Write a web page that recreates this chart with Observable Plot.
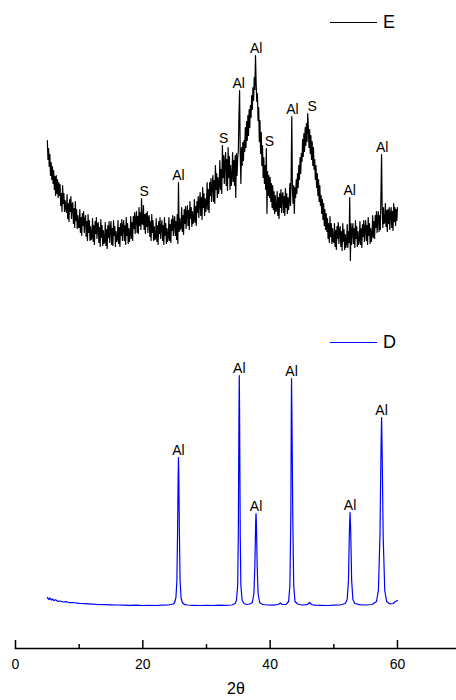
<!DOCTYPE html>
<html>
<head>
<meta charset="utf-8">
<script src="https://cdn.jsdelivr.net/npm/d3@7"></script>
<script src="https://cdn.jsdelivr.net/npm/@observablehq/plot@0.6"></script>
<style>
  body { margin: 0; background: #fff; font-family: "Liberation Sans", Arial, sans-serif; }
  #chart { position: relative; width: 456px; height: 700px; }
  .key-line { position: absolute; left: 330px; width: 47px; height: 1px; }
  .key-text { position: absolute; left: 383px; font-size: 18px; line-height: 18px; color: #000; }
</style>
</head>
<body>
<div id="chart"></div>
<script>
// Sample D: scan points (2θ, intensity in counts)
const dTheta = [
  5.0, 5.2, 5.4, 5.6, 5.8, 6.0, 6.3, 6.6, 7.0, 7.5, 8.0, 8.5, 9.0, 10.0, 11.0, 12.0, 13.0, 14.0, 15.0, 16.0,
  17.0, 18.0, 19.0, 20.0, 21.0, 22.0, 23.0, 24.0, 24.8, 25.0, 25.2, 25.35, 25.45, 25.55, 25.6, 25.65, 25.75, 25.85,
  26.0, 26.2, 26.5, 27.0, 28.0, 29.0, 30.0, 31.0, 32.0, 33.0, 34.0, 34.5, 34.7, 34.9, 35.0, 35.1, 35.15, 35.2,
  35.3, 35.4, 35.6, 35.9, 36.3, 36.8, 37.2, 37.45, 37.6, 37.72, 37.78, 37.84, 37.96, 38.1, 38.35, 38.8, 39.5,
  40.5, 41.3, 41.6, 41.9, 42.5, 42.9, 43.1, 43.25, 43.32, 43.36, 43.42, 43.55, 43.7, 43.9, 44.3, 45.0, 45.8,
  46.2, 46.5, 47.0, 48.0, 49.0, 50.0, 51.0, 51.8, 52.1, 52.3, 52.45, 52.55, 52.65, 52.8, 53.0, 53.3, 54.0,
  55.0, 56.0, 56.7, 57.0, 57.25, 57.4, 57.5, 57.6, 57.75, 58.0, 58.3, 58.8, 59.3, 59.7, 60.0
];
const dIntensity = [
  80, 60, 75, 55, 65, 50, 58, 42, 45, 35, 38, 28, 30, 22, 18, 14, 10, 8, 6, 5,
  3, 2, 3, 0, 2, 0, 3, 5, 15, 30, 80, 250, 700, 1300, 1480, 1300, 700, 250,
  80, 30, 12, 5, 2, 0, 2, 0, 3, 2, 5, 20, 50, 200, 700, 1900, 2300, 1900,
  700, 200, 50, 20, 10, 15, 30, 120, 400, 820, 920, 820, 400, 120, 30, 10, 5,
  3, 10, 25, 10, 12, 40, 200, 900, 1900, 2270, 1900, 900, 200, 40, 15, 5, 8,
  30, 10, 3, 2, 0, 3, 5, 20, 60, 250, 750, 930, 750, 250, 60, 20, 8,
  5, 10, 40, 150, 700, 1500, 1880, 1500, 700, 150, 40, 15, 20, 40, 50
];

// Sample E: scan from 5° to 60° in 0.1° steps (one row per degree)
const eScanStart = 5.0;
const eScanStep = 0.1;
const eIntensity = [
  1250, 1060, 1170, 990, 1110, 900, 1030, 860, 990, 820,
  950, 760, 890, 700, 900, 720, 860, 680, 830, 700,
  810, 600, 720, 540, 800, 620, 720, 540, 650, 560,
  530, 710, 470, 620, 440, 660, 540, 690, 470, 610,
  630, 420, 570, 380, 640, 450, 560, 370, 500, 380,
  380, 560, 330, 480, 300, 520, 400, 540, 330, 460,
  500, 290, 440, 250, 510, 330, 450, 250, 390, 260,
  280, 470, 240, 400, 210, 440, 320, 480, 270, 410,
  430, 230, 380, 190, 460, 280, 400, 200, 350, 220,
  240, 430, 200, 360, 170, 400, 280, 440, 230, 370,
  440, 210, 370, 200, 450, 300, 390, 190, 340, 240,
  260, 450, 220, 380, 190, 420, 300, 460, 250, 390,
  450, 250, 400, 210, 480, 300, 420, 220, 370, 240,
  300, 490, 270, 430, 250, 490, 370, 530, 320, 470,
  540, 330, 490, 320, 580, 400, 530, 360, 670, 420,
  410, 600, 360, 510, 320, 520, 390, 540, 330, 480,
  500, 290, 440, 250, 510, 330, 450, 250, 390, 260,
  280, 470, 240, 400, 210, 440, 320, 480, 270, 400,
  450, 250, 400, 210, 480, 300, 420, 220, 370, 240,
  280, 480, 250, 410, 230, 460, 350, 500, 300, 440,
  490, 300, 440, 260, 510, 220, 830, 340, 470, 360,
  380, 580, 340, 500, 310, 560, 420, 590, 370, 530,
  600, 400, 550, 360, 640, 470, 580, 390, 540, 420,
  460, 660, 430, 590, 400, 640, 530, 690, 480, 630,
  730, 500, 680, 460, 780, 580, 720, 500, 670, 540,
  610, 830, 560, 760, 530, 830, 700, 870, 640, 800,
  900, 640, 850, 620, 1000, 760, 920, 680, 880, 720,
  800, 1050, 760, 960, 720, 1200, 880, 1100, 820, 1040,
  1130, 800, 1060, 750, 1180, 880, 1090, 760, 1000, 800,
  880, 1130, 840, 1050, 800, 1100, 680, 1120, 900, 1080,
  1150, 1500, 1750, 1120, 820, 1180, 1000, 1230, 1050, 1250,
  1140, 1380, 1180, 1440, 1250, 1500, 1300, 1560, 1380, 1600,
  1480, 1700, 1560, 1780, 1650, 1880, 1760, 2100, 1820, 1640,
  1720, 1450, 1580, 1240, 1450, 1120, 1330, 1000, 1200, 880,
  1080, 820, 1000, 760, 1170, 520, 940, 700, 900, 680,
  880, 640, 820, 580, 800, 560, 740, 520, 700, 540,
  560, 740, 500, 680, 470, 720, 580, 760, 530, 700,
  730, 530, 690, 500, 770, 580, 720, 520, 680, 560,
  640, 820, 600, 900, 1490, 760, 620, 800, 520, 780,
  680, 860, 720, 920, 780, 1000, 860, 1080, 920, 1120,
  1040, 1260, 1090, 1320, 1140, 1380, 1200, 1420, 1240, 1520,
  1380, 1180, 1360, 1120, 1300, 1060, 1240, 1000, 1180, 960,
  1060, 860, 1000, 780, 920, 700, 860, 640, 800, 600,
  700, 520, 660, 460, 620, 400, 560, 360, 520, 340,
  470, 270, 420, 230, 490, 290, 420, 220, 370, 240,
  230, 420, 190, 350, 160, 390, 270, 430, 220, 360,
  390, 190, 340, 150, 420, 240, 360, 160, 310, 180,
  220, 410, 180, 340, 230, 680, 50, 420, 210, 360,
  420, 220, 370, 180, 450, 270, 390, 190, 340, 210,
  250, 440, 210, 370, 180, 410, 290, 450, 240, 380,
  450, 250, 400, 210, 480, 300, 420, 220, 370, 240,
  300, 500, 280, 440, 270, 500, 380, 540, 330, 480,
  540, 340, 500, 360, 700, 1110, 560, 380, 580, 420,
  430, 620, 390, 550, 340, 560, 420, 580, 360, 520,
  580, 380, 540, 350, 620, 440, 580, 400, 560, 450,
  580
];
// Vertical offset separating pattern E above pattern D
const eOffset = 3400;

// Phase annotations
const dPeakTheta = [25.6, 35.15, 37.78, 43.36, 52.55, 57.5];
const dPeakTop = [1480, 2300, 920, 2270, 930, 1880];
const dPeakPhase = ["Al", "Al", "Al", "Al", "Al", "Al"];

const eLabelTheta = [20.2, 25.6, 32.7, 35.05, 37.8, 39.9, 43.5, 46.6, 52.5, 57.6];
const eLabelTop = [670, 830, 1200, 1750, 2100, 1170, 1490, 1520, 680, 1110];
const eLabelPhase = ["S", "Al", "S", "Al", "Al", "S", "Al", "S", "Al", "Al"];

const xTicks = [0, 20, 40, 60];
const xMinorTicks = [10, 30, 50];

// Tables for the marks
const dRows = dTheta.map((t, i) => ({theta: t, counts: dIntensity[i]}));
const eRows = eIntensity.map((v, i) => ({theta: +(eScanStart + i * eScanStep).toFixed(2), counts: v + eOffset}));
const dLabels = dPeakTheta.map((t, i) => ({theta: t, counts: dPeakTop[i], phase: dPeakPhase[i]}));
const eLabels = eLabelTheta.map((t, i) => ({theta: t, counts: eLabelTop[i] + eOffset, phase: eLabelPhase[i]}));

const font = "'Liberation Sans', Arial, sans-serif";

const chart = Plot.plot({
  width: 456,
  height: 700,
  marginLeft: 15,
  marginRight: 0,
  marginTop: 5,
  marginBottom: 52,
  style: {fontFamily: font, background: "#fff", color: "#000", overflow: "visible"},
  x: {domain: [0, 69.27]},
  y: {domain: [0, 6000], insetBottom: 43, axis: null},
  marks: [
    Plot.frame({anchor: "bottom", stroke: "#000", strokeWidth: 1.6}),
    Plot.axisX(xTicks, {tickSize: 8, dy: -8, fill: "none", strokeWidth: 1.5, label: null}),
    Plot.axisX(xMinorTicks, {tickSize: 4, dy: -4, fill: "none", strokeWidth: 1.5, label: null}),
    Plot.axisX(xTicks, {tickSize: 0, tickPadding: 11, fontSize: 14, label: null}),
    Plot.text(["2θ"], {frameAnchor: "bottom", dy: 34, lineAnchor: "top", fontSize: 16, fill: "#000"}),
    Plot.line(eRows, {x: "theta", y: "counts", stroke: "#000", strokeWidth: 1.2}),
    Plot.line(dRows, {x: "theta", y: "counts", stroke: "#0000ff", strokeWidth: 1.2}),
    Plot.text(eLabels, {x: "theta", y: "counts", text: "phase", lineAnchor: "bottom", dy: -3, fontSize: 14, fill: "#000"}),
    Plot.text(dLabels, {x: "theta", y: "counts", text: "phase", lineAnchor: "bottom", dy: -3, fontSize: 14, fill: "#000"})
  ]
});

const holder = document.getElementById("chart");
holder.appendChild(chart);

// Series key
const keys = [
  {name: "E", color: "#000000", top: 22},
  {name: "D", color: "#0000ff", top: 342}
];
for (const k of keys) {
  const line = document.createElement("div");
  line.className = "key-line";
  line.style.top = (k.top - 0.5) + "px";
  line.style.background = k.color;
  holder.appendChild(line);
  const label = document.createElement("div");
  label.className = "key-text";
  label.style.top = (k.top - 9) + "px";
  label.textContent = k.name;
  holder.appendChild(label);
}
</script>
</body>
</html>
